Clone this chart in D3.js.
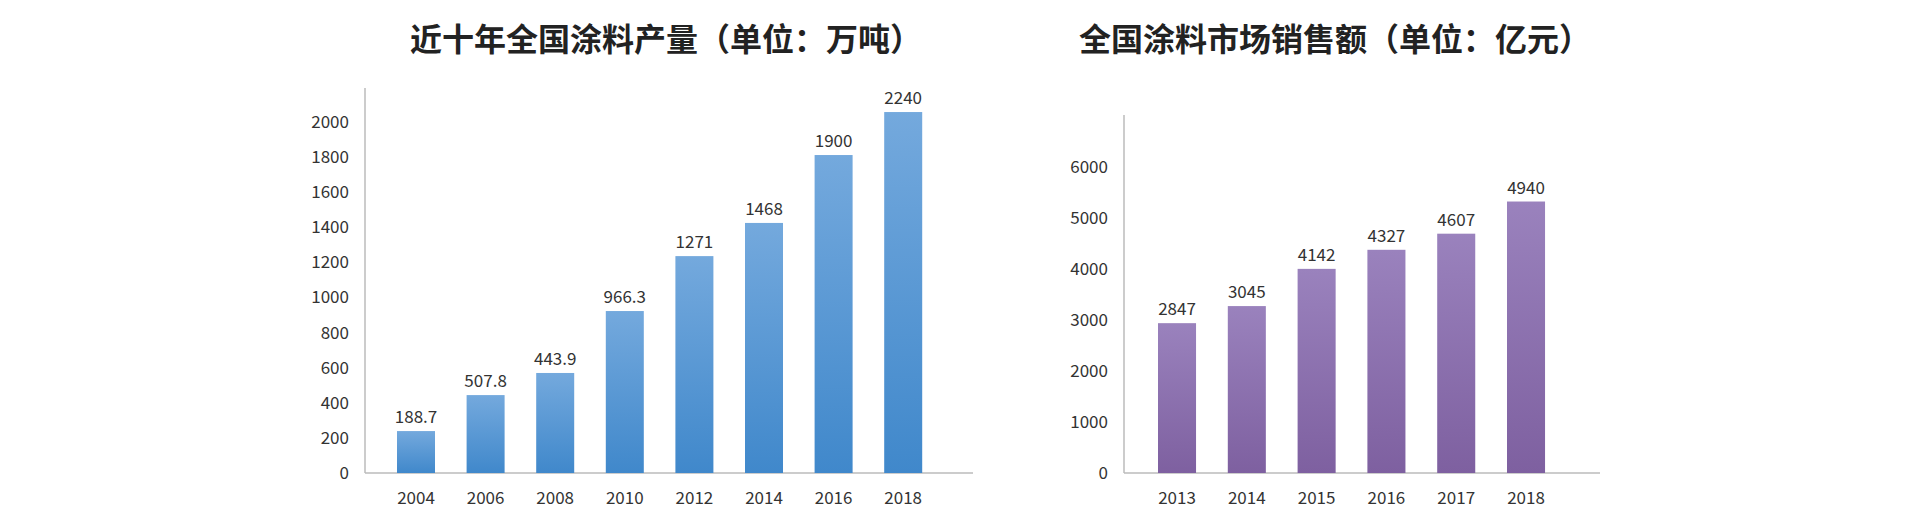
<!DOCTYPE html>
<html><head><meta charset="utf-8">
<script src="https://cdn.jsdelivr.net/npm/d3@7/dist/d3.min.js"></script>
<style>body{margin:0;background:#fff}text{font-family:"Noto Sans CJK SC","Noto Sans",sans-serif}</style>
</head><body><svg id="c" width="1920" height="528"></svg>
<script>
const years1 = ["2004","2006","2008","2010","2012","2014","2016","2018"];
const bars1 = [239,444,570,923,1236,1425,1812,2057];
const labels1 = ["188.7","507.8","443.9","966.3","1271","1468","1900","2240"];
const ticks1 = [0,200,400,600,800,1000,1200,1400,1600,1800,2000];
const years2 = ["2013","2014","2015","2016","2017","2018"];
const bars2 = [2939,3274,4004,4378,4694,5325];
const labels2 = ["2847","3045","4142","4327","4607","4940"];
const ticks2 = [0,1000,2000,3000,4000,5000,6000];

const svg = d3.select("#c");
const defs = svg.append("defs");
function grad(id, top, bot){
  const g = defs.append("linearGradient").attr("id",id).attr("x1",0).attr("x2",0).attr("y1",0).attr("y2",1);
  g.append("stop").attr("offset","0%").attr("stop-color",top);
  g.append("stop").attr("offset","100%").attr("stop-color",bot);
}
grad("gb","#74a9dd","#4088cb");
grad("gp","#9a82bd","#7e60a0");

function chart(o){
  const y = d3.scaleLinear().domain([0,o.ymax]).range([o.base,o.top]);
  const n = o.cats.length;
  const x = d3.scaleBand().domain(o.cats).range([o.x0,o.x0+o.step*(n-o.pad)]).paddingInner(o.pad).paddingOuter(0);
  const g = svg.append("g");
  g.append("line").attr("x1",o.ax).attr("x2",o.ax).attr("y1",o.top).attr("y2",o.base).attr("stroke","#bbb").attr("stroke-width",1.5);
  g.append("line").attr("x1",o.ax).attr("x2",o.axEnd).attr("y1",o.base).attr("y2",o.base).attr("stroke","#bbb").attr("stroke-width",1.5);
  g.selectAll(".t").data(o.ticks).join("text").attr("x",o.ax-16).attr("y",d=>y(d)).attr("dy","0.35em")
    .attr("text-anchor","end").attr("font-size",17).attr("fill","#333").text(d=>d);
  g.selectAll("rect").data(o.vals).join("rect").attr("x",(d,i)=>x(o.cats[i])).attr("width",x.bandwidth())
    .attr("y",d=>y(d)).attr("height",d=>o.base-y(d)).attr("fill",`url(#${o.fill})`);
  g.selectAll(".l").data(o.labels).join("text").attr("x",(d,i)=>x(o.cats[i])+x.bandwidth()/2).attr("y",(d,i)=>y(o.vals[i])-8)
    .attr("text-anchor","middle").attr("font-size",17).attr("fill","#333").text(d=>d);
  g.selectAll(".c").data(o.cats).join("text").attr("x",d=>x(d)+x.bandwidth()/2).attr("y",o.catY).attr("dy","0.35em")
    .attr("text-anchor","middle").attr("font-size",17).attr("fill","#333").text(d=>d);
  svg.append("text").attr("x",o.tx).attr("y",40).attr("dy","0.35em").attr("text-anchor","middle")
    .attr("font-size",32).attr("font-weight","bold").attr("fill","#222").text(o.title);
}
chart({cats:years1,vals:bars1,labels:labels1,ticks:ticks1,ymax:2194,base:473,top:88,ax:365,axEnd:973,
  x0:397,step:69.6,pad:0.454,fill:"gb",catY:498,tx:666,title:"近十年全国涂料产量（单位：万吨）"});
chart({cats:years2,vals:bars2,labels:labels2,ticks:ticks2,ymax:7022,base:473,top:115,ax:1124,axEnd:1600,
  x0:1158,step:69.8,pad:0.455,fill:"gp",catY:498,tx:1335,title:"全国涂料市场销售额（单位：亿元）"});
</script></body></html>
